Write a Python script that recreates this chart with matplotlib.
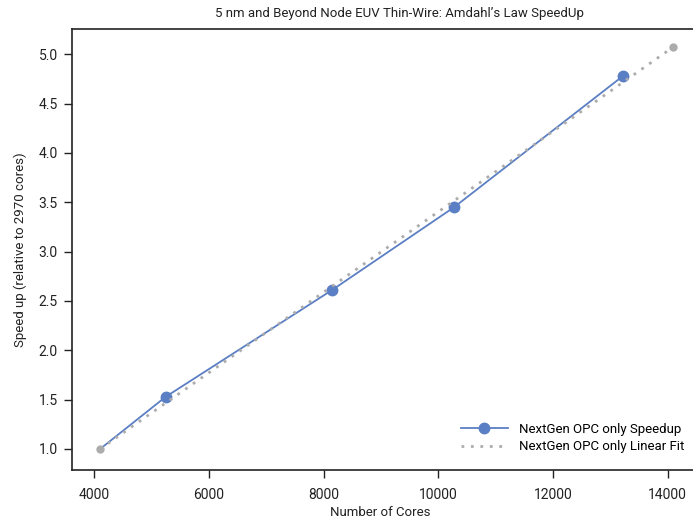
import matplotlib
matplotlib.use("Agg")
import matplotlib.pyplot as plt
import numpy as np

plt.rcParams['font.family'] = ['Roboto', 'DejaVu Sans']

cores = [4100, 5240, 8145, 10275, 13215]
speedup = [1.0, 1.527, 2.61, 3.45, 4.777]
fit_cores = [4100, 14090]
fit_speedup = [1.0, 5.07]

blue = '#5b7fc4'
grey = '#acacac'

W, H = 693, 521
fig = plt.figure(figsize=(W / 100, H / 100), dpi=100)
left, right, top, bottom = 71.5, 702, 29.3, 470
ax = fig.add_axes([left / W, 1 - bottom / H, (right - left) / W, (bottom - top) / H])

ax.plot(cores, speedup, color=blue, lw=1.3, marker='o', ms=7.5,
        markevery=[1, 2, 3, 4], label='NextGen OPC only Speedup', zorder=2)
ax.plot(fit_cores, fit_speedup, color=grey, lw=2.0, ls=(0, (1, 2.4)),
        label='NextGen OPC only Linear Fit', zorder=3)
ax.plot(fit_cores, fit_speedup, ls='none', marker='o', ms=6, mew=0, color=grey, zorder=4)

ax.set_xlim(3600, 14600)
ax.set_ylim(0.7865, 5.253)
ax.set_xticks([4000, 6000, 8000, 10000, 12000, 14000])
ax.set_yticks([1.0, 1.5, 2.0, 2.5, 3.0, 3.5, 4.0, 4.5, 5.0])
ax.set_yticklabels(['1.0', '1.5', '2.0', '2.5', '3.0', '3.5', '4.0', '4.5', '5.0'])

ax.spines['right'].set_visible(False)
for s in ['left', 'bottom', 'top']:
    ax.spines[s].set_linewidth(1.2)
    ax.spines[s].set_color('#222222')
ax.tick_params(axis='both', labelsize=10, length=6, width=1, color='#222222',
               labelcolor='#222222', pad=4)
ax.tick_params(axis='x', pad=7)

fig.text(380 / W, 1 - 513 / H, 'Number of Cores', ha='center', va='center',
         fontsize=9.5, color='#222222')
ax.set_ylabel('Speed up (relative to 2970 cores)', fontsize=9.5, labelpad=8, color='#222222')
fig.text(399 / W, 1 - 14 / H, "5 nm and Beyond Node EUV Thin-Wire: Amdahl\u2019s Law SpeedUp",
         ha='center', va='center', fontsize=9.5, color='#222222')

leg = ax.legend(loc='lower right', bbox_to_anchor=((692 - left) / (right - left), 0.02),
                frameon=False, fontsize=9.5, handlelength=3.6, labelspacing=0.35,
                borderaxespad=0.2)

fig.savefig('out.png', dpi=100)
